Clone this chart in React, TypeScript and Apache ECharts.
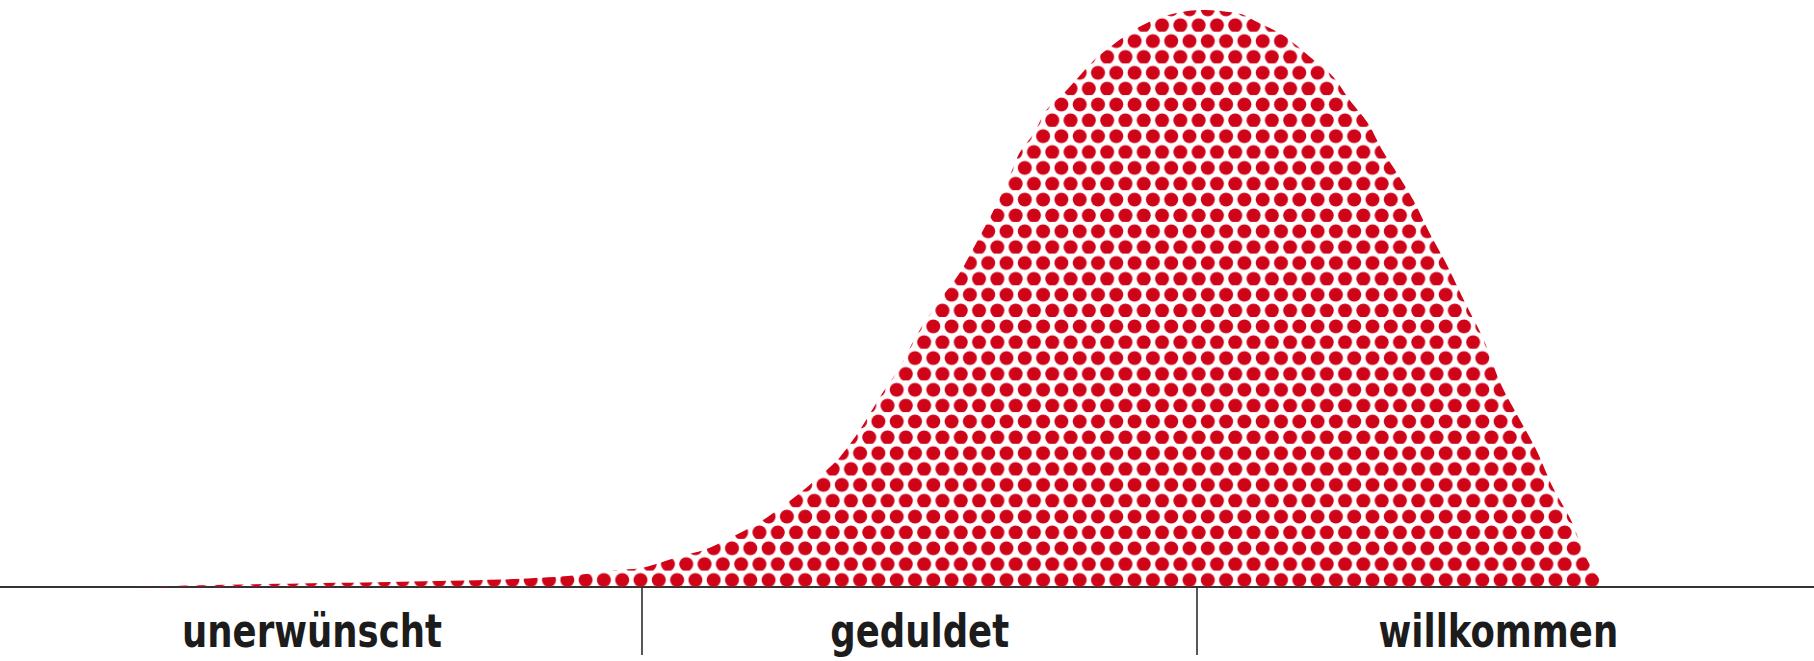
import React, { useEffect, useRef } from "react";
import * as echarts from "echarts";

// Position on the acceptance scale (0–100) and relative share (0–100)
const curveX = [
  7.2, 11.0, 16.5, 22.1, 27.6, 30.9, 34.3, 35.5, 37.7, 38.8, 40.4, 42.3, 44.1, 45.4, 46.3,
  47.4, 48.5, 49.6, 50.6, 51.8, 52.9, 53.9, 54.7, 55.5, 56.2, 57.0, 57.7, 58.8, 60.3, 61.2,
  62.5, 64.0, 66.2, 68.4, 69.3, 70.7, 72.2, 73.5, 74.4, 75.4, 76.2, 77.0, 77.9, 78.8, 79.8,
  80.7, 81.8, 82.7, 83.8, 84.7, 85.6, 86.6, 87.5, 88.5,
];
const curveY = [
  0, 0.3, 0.6, 0.9, 1.3, 1.8, 3.0, 3.4, 5.5, 6.4, 8.7, 12.1, 16.3, 19.8, 22.5,
  27.2, 32.9, 38.1, 44.0, 49.7, 54.4, 60.1, 64.8, 70.0, 75.2, 78.7, 82.7, 86.1, 91.3, 93.6,
  96.5, 98.8, 100, 99.3, 97.9, 95.7, 91.9, 88.4, 84.4, 80.4, 75.7, 71.8, 67.1, 61.4, 55.6,
  49.7, 42.8, 35.4, 28.9, 23.7, 17.3, 11.6, 4.7, 0,
];

const categoryLabels = ["unerwünscht", "geduldet", "willkommen"];
const categoryCenters = [17.2, 50.7, 82.6];
const categoryDividers = [35.4, 66.0];

function dotPattern() {
  const W = 18.3;
  const H = 31.7;
  const r = 7.0;
  const yA = 9.4;
  const yB = 25.25;
  const svg =
    `<svg xmlns='http://www.w3.org/2000/svg' width='${W}' height='${H}' viewBox='0 0 ${W} ${H}'>` +
    `<g fill='#cf0419'>` +
    `<circle cx='0' cy='${yA}' r='${r}'/><circle cx='${W}' cy='${yA}' r='${r}'/><circle cx='${W / 2}' cy='${yB}' r='${r}'/>` +
    `</g></svg>`;
  return {
    image: "data:image/svg+xml;charset=utf-8," + encodeURIComponent(svg),
    repeat: "repeat",
    imageWidth: W,
    imageHeight: H,
  };
}

export default function App() {
  const ref = useRef<HTMLDivElement>(null);

  useEffect(() => {
    if (!ref.current) return;
    const chart = echarts.init(ref.current, null, { renderer: "svg" });
    const data = curveX.map((x, i) => [x, curveY[i]]);
    chart.setOption({
      animation: false,
      backgroundColor: "#ffffff",
      grid: { left: 0, right: 0, top: 10, bottom: 74 },
      xAxis: {
        type: "value",
        min: 0,
        max: 100,
        splitLine: { show: false },
        axisLine: { show: true, lineStyle: { color: "#333333", width: 2 } },
        axisTick: {
          show: true,
          customValues: categoryDividers,
          length: 68,
          lineStyle: { color: "#2e2e2e", width: 1.6 },
        },
        axisLabel: { show: false },
      },
      yAxis: {
        type: "value",
        min: 0,
        max: 100,
        show: false,
      },
      series: [
        {
          type: "line",
          data,
          smooth: 0.3,
          showSymbol: false,
          lineStyle: { width: 0 },
          areaStyle: { color: dotPattern(), opacity: 1 },
          z: 1,
        },
      ],
    });

    const labels = categoryLabels.map((name, i) => {
      const p = chart.convertToPixel({ gridIndex: 0 }, [categoryCenters[i], 0]) as number[];
      return {
        type: "text",
        x: p[0],
        y: p[1] + 44,
        scaleX: 0.84,
        style: {
          text: name,
          font: "bold 47px 'DejaVu Sans Condensed', 'DejaVu Sans', sans-serif",
          fill: "#1c1c1c",
          align: "center",
          verticalAlign: "middle",
        },
      };
    });
    chart.setOption({ graphic: labels });

    return () => chart.dispose();
  }, []);

  return (
    <div
      ref={ref}
      style={{ position: "fixed", left: 0, top: 0, width: 1814, height: 661 }}
    />
  );
}
